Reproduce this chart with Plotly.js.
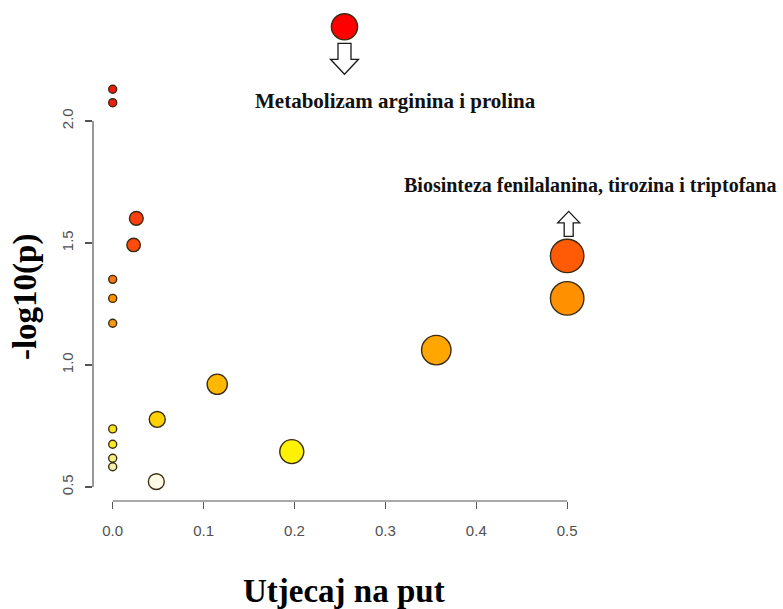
<!DOCTYPE html>
<html>
<head>
<meta charset="utf-8">
<script src="https://cdn.plot.ly/plotly-3.0.1.min.js"></script>
<style>
  html, body { margin: 0; padding: 0; background: #ffffff; }
  #chart { width: 783px; height: 609px; }
</style>
</head>
<body>
<div id="chart"></div>
<script>
// Pathway impact (x) and -log10(p) (y) for each metabolic pathway
const impact = [0.255, 0, 0, 0.026, 0.023, 0.5, 0, 0.5, 0, 0, 0.356, 0.115, 0.049, 0, 0, 0.197, 0, 0, 0.048];
const negLogP = [2.386, 2.130, 2.075, 1.601, 1.492, 1.447, 1.351, 1.273, 1.273, 1.171, 1.061, 0.921, 0.777, 0.738, 0.675, 0.645, 0.618, 0.583, 0.522];

// Axis ticks
const xTicks = [0, 0.1, 0.2, 0.3, 0.4, 0.5];
const xTickText = ['0.0', '0.1', '0.2', '0.3', '0.4', '0.5'];
const yTicks = [0.5, 1.0, 1.5, 2.0];
const yTickText = ['0.5', '1.0', '1.5', '2.0'];

// Labelled pathways
const labelNames = ['Metabolizam arginina i prolina', 'Biosinteza fenilalanina, tirozina i triptofana'];
const labelIndex = [0, 5];

// Heat palette over -log10(p): pale cream for weak hits, red for the strongest
const vMin = 0.52, vMax = 2.39;
const heatStops = [
  [0.52, '#fffbe6'], [0.58, '#f4f1b2'], [0.62, '#f3ef84'], [0.645, '#fff200'],
  [0.68, '#f6ea30'], [0.74, '#f7e21e'], [0.78, '#ffd000'], [0.92, '#ffb800'],
  [1.06, '#ffa600'], [1.17, '#f49a14'], [1.27, '#ff9200'], [1.35, '#f77418'],
  [1.45, '#ff5a06'], [1.49, '#ff4a0e'], [1.60, '#ff3e10'], [2.08, '#f51f10'],
  [2.13, '#f01a10'], [2.39, '#ff0000']
];
const colorscale = heatStops.map(s => [(s[0] - vMin) / (vMax - vMin), s[1]]);

// Bubble diameter grows with pathway impact
const sizes = impact.map(v => 8 + 36 * Math.sqrt(v));

const trace = {
  type: 'scatter',
  mode: 'markers',
  x: impact,
  y: negLogP,
  cliponaxis: false,
  hoverinfo: 'skip',
  marker: {
    size: sizes,
    color: negLogP,
    colorscale: colorscale,
    cmin: vMin,
    cmax: vMax,
    showscale: false,
    opacity: 1,
    line: { color: '#3a2c12', width: 1.4 }
  }
};

const serifBold = 'Liberation Serif, Times New Roman, serif';

// Hollow block arrows pointing between the labels and their bubbles (pixel offsets from the bubble centre)
const downArrow = 'M -6.5,-16.5 L 6.5,-16.5 L 6.5,-32.5 L 14,-32.5 L 0,-47.5 L -14,-32.5 L -6.5,-32.5 Z';
const upArrow = 'M -3,19.5 L 6,19.5 L 6,33 L 12.5,33 L 1.5,44.5 L -9.5,33 L -3,33 Z';

const shapes = [
  // R-style axis lines spanning only the tick range
  { type: 'line', xref: 'x', yref: 'paper', x0: xTicks[0], x1: xTicks[xTicks.length - 1], y0: 0, y1: 0,
    line: { color: '#555555', width: 1.2 } },
  { type: 'line', xref: 'paper', yref: 'y', x0: 0, x1: 0, y0: yTicks[0], y1: yTicks[yTicks.length - 1],
    line: { color: '#555555', width: 1.2 } },
  { type: 'path', xref: 'x', yref: 'y', xsizemode: 'pixel', ysizemode: 'pixel',
    xanchor: impact[labelIndex[0]], yanchor: negLogP[labelIndex[0]], path: downArrow,
    fillcolor: '#ffffff', line: { color: '#1a1a1a', width: 1.3 } },
  { type: 'path', xref: 'x', yref: 'y', xsizemode: 'pixel', ysizemode: 'pixel',
    xanchor: impact[labelIndex[1]], yanchor: negLogP[labelIndex[1]], path: upArrow,
    fillcolor: '#ffffff', line: { color: '#1a1a1a', width: 1.3 } }
];

const annotations = [
  { text: labelNames[0], x: impact[labelIndex[0]], y: negLogP[labelIndex[0]], xref: 'x', yref: 'y',
    xshift: 51, yshift: -74, showarrow: false, xanchor: 'center', yanchor: 'middle',
    font: { family: serifBold, size: 21, color: '#111111', weight: 'bold' } },
  { text: labelNames[1], x: impact[labelIndex[1]], y: negLogP[labelIndex[1]], xref: 'x', yref: 'y',
    xshift: 23, yshift: 70, showarrow: false, xanchor: 'center', yanchor: 'middle',
    font: { family: serifBold, size: 20, color: '#111111', weight: 'bold' } },
  // Axis titles
  { text: 'Utjecaj na put', xref: 'paper', yref: 'paper', x: 0.508, y: -0.187,
    showarrow: false, xanchor: 'center', yanchor: 'middle',
    font: { family: serifBold, size: 33, color: '#000000', weight: 'bold' } },
  { text: '-log10(p)', xref: 'paper', yref: 'paper', x: -0.1377, y: 0.426, textangle: -90,
    showarrow: false, xanchor: 'center', yanchor: 'middle',
    font: { family: serifBold, size: 33, color: '#000000', weight: 'bold' } }
];

const tickFont = { family: 'Liberation Sans, Arial, sans-serif', size: 15, color: '#505050' };

const layout = {
  width: 783,
  height: 609,
  paper_bgcolor: '#ffffff',
  plot_bgcolor: '#ffffff',
  showlegend: false,
  margin: { l: 93, r: 196, t: 20, b: 108 },
  xaxis: {
    range: [-0.02167, 0.5218],
    tickvals: xTicks,
    ticktext: xTickText,
    ticks: 'outside',
    ticklen: 7,
    tickwidth: 1.2,
    tickcolor: '#555555',
    ticklabelstandoff: 9,
    showline: false,
    showgrid: false,
    zeroline: false,
    tickfont: tickFont,
    fixedrange: true
  },
  yaxis: {
    range: [0.4426, 2.4139],
    tickvals: yTicks,
    ticktext: yTickText,
    ticks: 'outside',
    ticklen: 7,
    tickwidth: 1.2,
    tickcolor: '#555555',
    tickangle: -90,
    ticklabelstandoff: 6,
    showline: false,
    showgrid: false,
    zeroline: false,
    tickfont: tickFont,
    fixedrange: true
  },
  shapes: shapes,
  annotations: annotations
};

Plotly.newPlot('chart', [trace], layout, { displayModeBar: false, staticPlot: true });
</script>
</body>
</html>
